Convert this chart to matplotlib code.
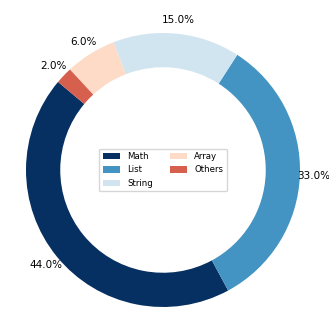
import numpy as np
import matplotlib
matplotlib.use('Agg')
import matplotlib.pyplot as plt

categories = ['Math', 'List', 'String', 'Array', 'Others']
shares = [44.0, 33.0, 15.0, 6.0, 2.0]
colors = ['#053061', '#4393c3', '#d1e5f0', '#fddbc7', '#d6604d']

fig = plt.figure(figsize=(3.29, 3.22), dpi=100)
# axes box is 2.5 radii wide, pie centre at (163, 170) px, radius 137 px
side = 2.5 * 137
ax = fig.add_axes([(163 - side / 2) / 329, (322 - 170 - side / 2) / 322,
                   side / 329, side / 322])

wedges, texts, autotexts = ax.pie(shares, colors=colors, startangle=140,
                                  autopct='%1.1f%%', pctdistance=1.1,
                                  wedgeprops=dict(width=0.25))
for t in autotexts:
    t.set_fontsize(7.5)

ax.set_xlim(-1.25, 1.25)
ax.set_ylim(-1.25, 1.25)
ax.set_aspect('equal')
ax.axis('off')

ax.legend(wedges, categories, loc='center', ncol=2, fontsize=6.2)

plt.savefig('out.png', dpi=100)
